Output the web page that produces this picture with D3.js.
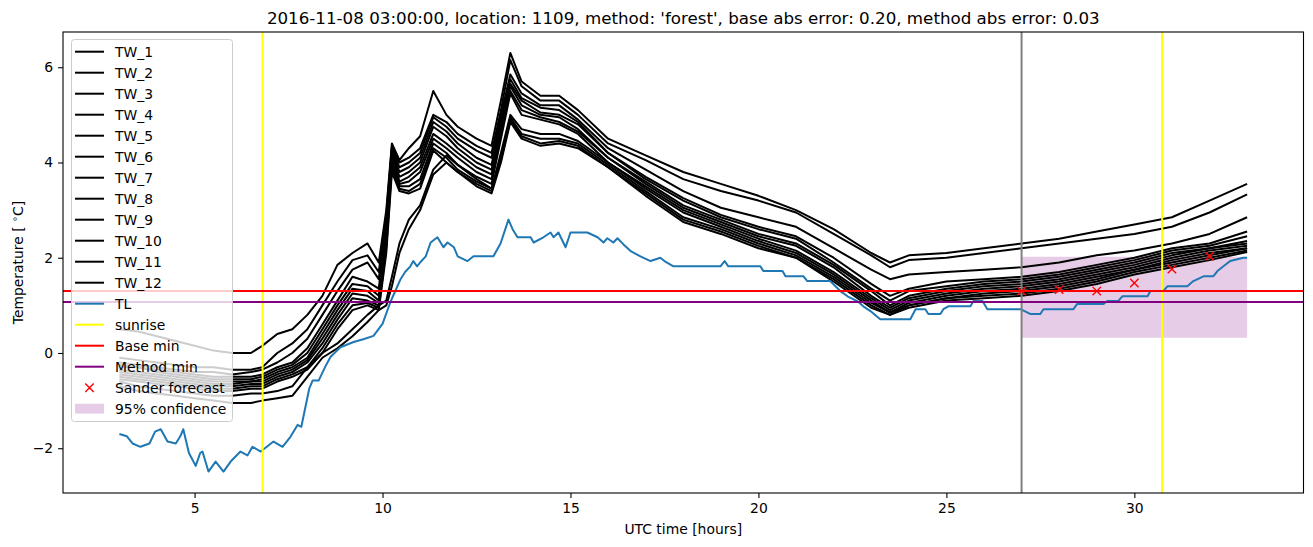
<!DOCTYPE html>
<html>
<head>
<meta charset="utf-8">
<script src="https://cdn.jsdelivr.net/npm/d3@7"></script>
<style>
  body { margin: 0; background: #fff; }
  svg { font-family: 'DejaVu Sans', sans-serif; }
</style>
</head>
<body>
<svg id="chart" width="1313" height="547"></svg>
<script>
// time knots (UTC hours) shared by the TW series
const hours = [3, 3.5, 4, 4.5, 5, 5.5, 6, 6.5, 6.8, 7.2, 7.6, 8, 8.4, 8.8, 9.2, 9.6, 9.9,
  10.1, 10.25, 10.45, 10.7, 11.0, 11.35, 11.7, 12.0, 12.5, 12.9, 13.15, 13.4, 13.7, 14.2, 14.7, 15.2,
  16, 17, 18, 19, 20, 21, 22, 23, 23.5, 24, 25, 26, 27, 28, 29, 30, 31, 32, 33];

const tw1 = [0.5, 0.45, 0.35, 0.25, 0.15, 0.05, 0.0, 0.0, 0.15, 0.4, 0.5, 0.8, 1.2, 1.85, 2.1, 2.3, 1.9,
  3.0, 4.4, 4.05, 4.3, 4.55, 5.5, 5.0, 4.75, 4.5, 4.35, 5.3, 6.3, 5.7, 5.4, 5.4, 5.1,
  4.5, 4.15, 3.8, 3.55, 3.3, 3.0, 2.6, 2.1, 1.9, 2.05, 2.1, 2.2, 2.3, 2.4, 2.55, 2.7, 2.85, 3.2, 3.55];
const tw2 = [-0.1, -0.15, -0.2, -0.25, -0.3, -0.3, -0.35, -0.35, -0.3, 0.0, 0.2, 0.5, 1.0, 1.5, 1.95, 2.05, 1.7,
  2.9, 4.35, 4.0, 4.1, 4.3, 5.0, 4.85, 4.6, 4.35, 4.2, 5.1, 6.15, 5.6, 5.3, 5.3, 5.0,
  4.4, 4.05, 3.65, 3.4, 3.2, 2.95, 2.5, 2.05, 1.8, 1.95, 2.0, 2.1, 2.2, 2.3, 2.4, 2.5, 2.65, 2.95, 3.33];
const tw3 = [-0.2, -0.25, -0.3, -0.35, -0.4, -0.4, -0.45, -0.4, -0.35, -0.2, 0.0, 0.3, 0.8, 1.3, 1.75, 1.9, 1.55,
  2.8, 4.3, 3.9, 4.0, 4.2, 4.95, 4.75, 4.5, 4.25, 4.1, 5.0, 5.85, 5.45, 5.2, 5.2, 4.9,
  4.3, 3.85, 3.4, 3.05, 2.85, 2.65, 2.2, 1.75, 1.55, 1.65, 1.7, 1.75, 1.8, 1.9, 2.05, 2.15, 2.3, 2.5, 2.85];
const tw4 = [-0.3, -0.3, -0.35, -0.4, -0.45, -0.5, -0.5, -0.5, -0.45, -0.3, -0.2, 0.1, 0.6, 1.1, 1.6, 1.5, 1.35,
  2.7, 4.25, 3.8, 3.9, 4.1, 4.85, 4.65, 4.4, 4.1, 3.95, 4.9, 5.75, 5.35, 5.15, 5.1, 4.85,
  4.2, 3.7, 3.25, 2.9, 2.65, 2.45, 2.0, 1.45, 1.2, 1.35, 1.5, 1.55, 1.6, 1.7, 1.85, 2.0, 2.2, 2.3, 2.55];
const tw5 = [-0.25, -0.3, -0.4, -0.45, -0.5, -0.55, -0.55, -0.55, -0.5, -0.35, -0.25, 0.0, 0.5, 1.0, 1.45, 1.4, 1.2,
  2.6, 4.2, 3.7, 3.8, 4.0, 4.75, 4.55, 4.3, 4.0, 3.85, 4.8, 5.65, 5.3, 5.05, 5.0, 4.8,
  4.2, 3.65, 3.2, 2.85, 2.6, 2.4, 1.9, 1.35, 1.1, 1.3, 1.4, 1.5, 1.55, 1.65, 1.8, 1.95, 2.15, 2.25, 2.45];
const tw6 = [-0.35, -0.4, -0.45, -0.5, -0.55, -0.6, -0.6, -0.6, -0.55, -0.4, -0.3, -0.1, 0.4, 0.9, 1.35, 1.3, 1.1,
  2.5, 4.15, 3.6, 3.7, 3.9, 4.6, 4.4, 4.2, 3.9, 3.75, 4.7, 5.6, 5.2, 5.0, 4.95, 4.7,
  4.1, 3.6, 3.1, 2.8, 2.5, 2.3, 1.85, 1.3, 1.0, 1.2, 1.35, 1.45, 1.5, 1.6, 1.75, 1.9, 2.1, 2.2, 2.35];
const tw7 = [-0.4, -0.45, -0.5, -0.55, -0.6, -0.65, -0.65, -0.6, -0.6, -0.45, -0.35, -0.15, 0.3, 0.8, 1.25, 1.2, 1.05,
  2.4, 4.1, 3.55, 3.6, 3.8, 4.5, 4.3, 4.1, 3.8, 3.65, 4.6, 5.5, 5.1, 4.95, 4.85, 4.65,
  4.1, 3.55, 3.05, 2.75, 2.45, 2.25, 1.8, 1.2, 0.95, 1.15, 1.3, 1.4, 1.45, 1.55, 1.7, 1.85, 2.05, 2.2, 2.3];
const tw8 = [-0.45, -0.5, -0.55, -0.6, -0.65, -0.7, -0.7, -0.65, -0.65, -0.5, -0.4, -0.2, 0.2, 0.7, 1.15, 1.1, 1.0,
  2.3, 4.0, 3.5, 3.5, 3.65, 4.4, 4.2, 3.95, 3.7, 3.55, 4.5, 5.45, 5.0, 4.9, 4.8, 4.6,
  4.0, 3.5, 3.0, 2.7, 2.4, 2.15, 1.7, 1.15, 0.9, 1.1, 1.25, 1.35, 1.4, 1.5, 1.65, 1.8, 2.0, 2.15, 2.25];
const tw9 = [-0.5, -0.55, -0.6, -0.65, -0.7, -0.75, -0.75, -0.7, -0.7, -0.55, -0.45, -0.3, 0.1, 0.6, 1.0, 1.05, 0.95,
  2.2, 3.9, 3.45, 3.4, 3.55, 4.3, 4.1, 3.85, 3.6, 3.45, 4.2, 5.0, 4.7, 4.6, 4.6, 4.45,
  4.0, 3.45, 2.95, 2.65, 2.35, 2.1, 1.65, 1.1, 0.85, 1.05, 1.2, 1.3, 1.35, 1.45, 1.6, 1.75, 1.95, 2.1, 2.2];
const tw10 = [-0.55, -0.6, -0.65, -0.7, -0.75, -0.8, -0.8, -0.75, -0.75, -0.6, -0.5, -0.35, 0.0, 0.5, 0.9, 1.0, 0.9,
  2.1, 3.8, 3.4, 3.35, 3.45, 4.25, 4.0, 3.8, 3.55, 3.4, 4.1, 4.95, 4.6, 4.5, 4.5, 4.4,
  3.95, 3.4, 2.85, 2.6, 2.3, 2.05, 1.6, 1.05, 0.85, 1.0, 1.15, 1.25, 1.3, 1.4, 1.55, 1.75, 1.9, 2.05, 2.2];
const tw11 = [-0.6, -0.7, -0.75, -0.8, -0.85, -0.9, -0.9, -0.85, -0.85, -0.8, -0.7, -0.3, 0.0, 0.2, 0.5, 0.8, 1.0,
  1.1, 1.6, 2.3, 2.8, 3.1, 3.85, 4.15, 3.95, 3.65, 3.45, 4.05, 4.9, 4.55, 4.4, 4.45, 4.35,
  3.9, 3.35, 2.8, 2.55, 2.25, 2.0, 1.55, 1.0, 0.8, 1.0, 1.15, 1.2, 1.25, 1.35, 1.5, 1.7, 1.85, 2.0, 2.15];
const tw12 = [-0.7, -0.8, -0.85, -0.9, -0.95, -1.0, -1.05, -1.05, -1.0, -0.95, -0.9, -0.5, -0.1, 0.1, 0.35, 0.65, 0.9,
  1.0, 1.4, 2.1, 2.6, 3.0, 3.75, 4.0, 3.8, 3.5, 3.35, 4.0, 4.85, 4.5, 4.35, 4.4, 4.3,
  3.9, 3.3, 2.75, 2.5, 2.2, 2.0, 1.5, 0.95, 0.8, 0.95, 1.1, 1.15, 1.2, 1.3, 1.45, 1.65, 1.8, 1.95, 2.12];
const twSeries = [tw1, tw2, tw3, tw4, tw5, tw6, tw7, tw8, tw9, tw10, tw11, tw12];
const twNames = ['TW_1', 'TW_2', 'TW_3', 'TW_4', 'TW_5', 'TW_6', 'TW_7', 'TW_8', 'TW_9', 'TW_10', 'TW_11', 'TW_12'];

const tlHours = [3.0, 3.2, 3.35, 3.56, 3.8, 3.95, 4.1, 4.28, 4.5, 4.62, 4.7, 4.85, 5.03, 5.15, 5.21, 5.37, 5.56,
  5.77, 5.96, 6.22, 6.41, 6.54, 6.76, 7.1, 7.34, 7.55, 7.74, 7.84, 8.05, 8.14, 8.3, 8.5, 8.62, 8.88, 9.23,
  9.49, 9.76, 10.0, 10.21, 10.48, 10.6, 10.74, 10.82, 10.92, 11.0, 11.15, 11.28, 11.46, 11.62, 11.73, 11.9,
  12.0, 12.26, 12.42, 12.95, 13.14, 13.35, 13.46, 13.59, 13.94, 14.02, 14.28, 14.47, 14.55, 14.68, 14.87,
  15.0, 15.45, 15.72, 15.88, 15.98, 16.14, 16.25, 16.41, 16.6, 16.86, 17.13, 17.39, 17.5, 17.74, 18.99,
  19.1, 19.2, 20.05, 20.13, 20.64, 20.72, 21.2, 21.3, 21.91, 22.05, 22.18, 22.37, 22.63, 22.79, 22.98,
  23.24, 24.04, 24.18, 24.44, 24.52, 24.84, 24.92, 25.05, 25.64, 25.72, 25.96, 26.09, 26.97, 27.23, 27.5,
  27.58, 28.38, 28.48, 29.18, 29.28, 29.57, 29.68, 30.35, 30.43, 30.77, 30.88, 31.41, 31.57, 31.84, 32.1,
  32.21, 32.37, 32.55, 32.9, 33.0];
const tlValues = [-1.7, -1.75, -1.9, -1.97, -1.9, -1.65, -1.6, -1.86, -1.9, -1.75, -1.6, -2.1, -2.37, -2.1, -2.07, -2.49, -2.28,
  -2.49, -2.28, -2.07, -2.15, -1.97, -2.07, -1.86, -1.97, -1.76, -1.51, -1.55, -0.75, -0.58, -0.58, -0.25, -0.08, 0.12, 0.23,
  0.29, 0.36, 0.61, 1.07, 1.55, 1.7, 1.82, 1.93, 1.82, 1.9, 2.03, 2.32, 2.43, 2.22, 2.32, 2.22,
  2.03, 1.93, 2.03, 2.03, 2.3, 2.8, 2.6, 2.43, 2.43, 2.32, 2.43, 2.53, 2.43, 2.53, 2.22,
  2.53, 2.53, 2.43, 2.32, 2.41, 2.32, 2.41, 2.28, 2.14, 2.03, 1.93, 2.0, 1.93, 1.82, 1.82,
  1.93, 1.82, 1.82, 1.72, 1.72, 1.61, 1.61, 1.51, 1.51, 1.4, 1.3, 1.19, 1.09, 0.98, 0.88,
  0.71, 0.71, 0.92, 0.92, 0.82, 0.82, 0.92, 0.98, 0.98, 1.09, 1.09, 0.92, 0.92, 0.82, 0.82,
  0.92, 0.92, 1.03, 1.03, 1.09, 1.09, 1.19, 1.19, 1.3, 1.3, 1.4, 1.4, 1.51, 1.61, 1.61,
  1.72, 1.82, 1.93, 2.0, 2.0];

const sunriseHours = [6.81, 30.74];
const forecastTime = 27.0;
const baseMin = 1.30;
const methodMin = 1.07;
const forecastHours = [27, 28, 29, 30, 31, 32];
const forecastValues = [1.30, 1.33, 1.30, 1.47, 1.76, 2.03];
const confidenceHours = [27, 33];
const confidenceLow = [0.32, 0.32];
const confidenceHigh = [2.02, 2.02];

const xTicks = [5, 10, 15, 20, 25, 30];
const yTicks = [-2, 0, 2, 4, 6];
const title = "2016-11-08 03:00:00, location: 1109, method: 'forest', base abs error: 0.20, method abs error: 0.03";

const svg = d3.select('#chart');
const plotLeft = 63, plotRight = 1303.5, plotTop = 32, plotBottom = 493;
const fontSize = 13.9;

const x = d3.scaleLinear().domain([1.5, 34.5]).range([plotLeft, plotRight]);
const y = d3.scaleLinear().domain([-2.94, 6.74]).range([plotBottom, plotTop]);

const plot = svg.append('g');
plot.append('clipPath').attr('id', 'clip')
  .append('rect').attr('x', plotLeft).attr('y', plotTop)
  .attr('width', plotRight - plotLeft).attr('height', plotBottom - plotTop);
const body = plot.append('g').attr('clip-path', 'url(#clip)');

// 95% confidence band
const conf = confidenceHours.map((h, i) => ({ h, lo: confidenceLow[i], hi: confidenceHigh[i] }));
body.append('path')
  .datum(conf)
  .attr('fill', 'purple')
  .attr('fill-opacity', 0.2)
  .attr('d', d3.area().x(d => x(d.h)).y0(d => y(d.lo)).y1(d => y(d.hi)));

const line = d3.line().x(d => x(d[0])).y(d => y(d[1]));

body.selectAll('.tw')
  .data(twSeries)
  .enter().append('path')
    .attr('class', 'tw')
    .attr('fill', 'none')
    .attr('stroke', 'black')
    .attr('stroke-width', 2)
    .attr('stroke-linejoin', 'round')
    .attr('d', s => line(s.map((v, i) => [hours[i], v])));

body.append('path')
  .attr('fill', 'none')
  .attr('stroke', '#1f77b4')
  .attr('stroke-width', 2)
  .attr('stroke-linejoin', 'round')
  .attr('d', line(tlHours.map((h, i) => [h, tlValues[i]])));

body.append('line')
  .attr('x1', x(forecastTime)).attr('x2', x(forecastTime))
  .attr('y1', plotTop).attr('y2', plotBottom)
  .attr('stroke', 'gray').attr('stroke-width', 2);

body.selectAll('.sunrise')
  .data(sunriseHours)
  .enter().append('line')
    .attr('class', 'sunrise')
    .attr('x1', d => x(d)).attr('x2', d => x(d))
    .attr('y1', plotTop).attr('y2', plotBottom)
    .attr('stroke', 'yellow').attr('stroke-width', 2);

body.selectAll('.hmin')
  .data([[baseMin, 'red'], [methodMin, 'purple']])
  .enter().append('line')
    .attr('class', 'hmin')
    .attr('x1', plotLeft).attr('x2', plotRight)
    .attr('y1', d => y(d[0])).attr('y2', d => y(d[0]))
    .attr('stroke', d => d[1]).attr('stroke-width', 2);

function cross(g, size) {
  g.append('path')
    .attr('d', `M${-size},${-size}L${size},${size}M${-size},${size}L${size},${-size}`)
    .attr('stroke', 'red')
    .attr('stroke-width', 1.4)
    .attr('fill', 'none');
}

body.selectAll('.fc')
  .data(forecastHours)
  .enter().append('g')
    .attr('class', 'fc')
    .attr('transform', (d, i) => `translate(${x(d)},${y(forecastValues[i])})`)
    .each(function () { cross(d3.select(this), 4.2); });

// axes
const xAxis = plot.append('g')
  .attr('transform', `translate(0,${plotBottom})`)
  .call(d3.axisBottom(x).tickValues(xTicks).tickSize(4.9).tickPadding(4.9).tickFormat(d3.format('d')));
const yAxis = plot.append('g')
  .attr('transform', `translate(${plotLeft},0)`)
  .call(d3.axisLeft(y).tickValues(yTicks).tickSize(4.9).tickPadding(4.9)
    .tickFormat(d => d < 0 ? '\u2212' + Math.abs(d) : String(d)));
for (const ax of [xAxis, yAxis]) {
  ax.select('.domain').remove();
  ax.attr('font-family', null).attr('font-size', fontSize);
  ax.selectAll('.tick line').attr('stroke', 'black').attr('stroke-width', 1.1);
  ax.selectAll('.tick text').attr('fill', 'black');
}

plot.append('rect')
  .attr('x', plotLeft).attr('y', plotTop)
  .attr('width', plotRight - plotLeft).attr('height', plotBottom - plotTop)
  .attr('fill', 'none').attr('stroke', 'black').attr('stroke-width', 1.1);

svg.append('text')
  .attr('x', (plotLeft + plotRight) / 2).attr('y', 23.5)
  .attr('text-anchor', 'middle')
  .attr('font-size', 16.7)
  .text(title);

svg.append('text')
  .attr('x', (plotLeft + plotRight) / 2).attr('y', 534)
  .attr('text-anchor', 'middle')
  .attr('font-size', fontSize)
  .text('UTC time [hours]');

const ylab = svg.append('text')
  .attr('transform', `translate(23,${(plotTop + plotBottom) / 2}) rotate(-90)`)
  .attr('text-anchor', 'middle')
  .attr('font-size', fontSize);
ylab.append('tspan').text('Temperature [ ');
ylab.append('tspan').attr('font-size', fontSize * 0.7).attr('dy', -5).text('\u2218');
ylab.append('tspan').attr('dy', 5).text('C]');

// legend
const legendItems = twNames.map(n => ({ name: n, kind: 'line', color: 'black' }))
  .concat([
    { name: 'TL', kind: 'line', color: '#1f77b4' },
    { name: 'sunrise', kind: 'line', color: 'yellow' },
    { name: 'Base min', kind: 'line', color: 'red' },
    { name: 'Method min', kind: 'line', color: 'purple' },
    { name: 'Sander forecast', kind: 'cross', color: 'red' },
    { name: '95% confidence', kind: 'patch', color: 'purple' }
  ]);

const legend = svg.append('g');
legend.append('rect')
  .attr('x', 71.5).attr('y', 39.5).attr('width', 161).attr('height', 382).attr('rx', 3)
  .attr('fill', 'white').attr('fill-opacity', 0.8)
  .attr('stroke', '#cccccc').attr('stroke-width', 1);

const entry = legend.selectAll('.entry')
  .data(legendItems)
  .enter().append('g')
    .attr('class', 'entry')
    .attr('transform', (d, i) => `translate(0,${51.7 + i * 21})`);

entry.filter(d => d.kind == 'line').append('line')
  .attr('x1', 75).attr('x2', 104)
  .attr('stroke', d => d.color).attr('stroke-width', 2);
entry.filter(d => d.kind == 'cross').append('g')
  .attr('transform', 'translate(89.5,0)')
  .each(function () { cross(d3.select(this), 4.2); });
entry.filter(d => d.kind == 'patch').append('rect')
  .attr('x', 75).attr('y', -4.9).attr('width', 29).attr('height', 9.8)
  .attr('fill', d => d.color).attr('fill-opacity', 0.2);
entry.append('text')
  .attr('x', 115).attr('y', 0)
  .attr('dy', '0.36em')
  .attr('font-size', fontSize)
  .text(d => d.name);
</script>
</body>
</html>
